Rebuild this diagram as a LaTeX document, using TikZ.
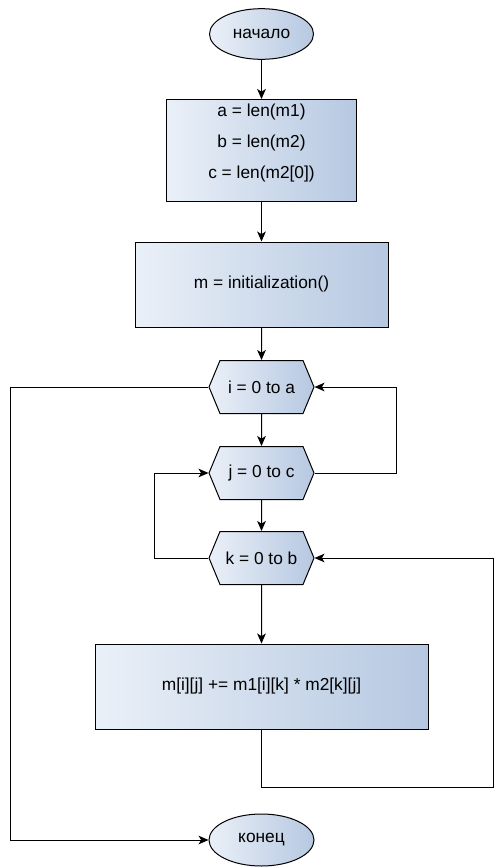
\documentclass[tikz,border=0pt]{standalone}
\usepackage{fontspec}
\setmainfont{Liberation Sans}
\usetikzlibrary{shapes.geometric,shapes.symbols,arrows.meta}
\definecolor{fillL}{HTML}{EAF0F8}
\definecolor{fillR}{HTML}{B6C8E1}
\begin{document}
\begin{tikzpicture}[x=0.75pt,y=-0.75pt,
  every node/.style = {draw, line width=0.75pt, left color=fillL, right color=fillR,
    font=\fontsize{13}{15.6}\selectfont, align=center, inner sep=1pt},
  terminal/.style = {ellipse, minimum width=78pt, minimum height=38pt},
  procbox/.style = {rectangle, minimum height=63.75pt},
  loopbox/.style = {signal, signal to=east and west, signal pointer angle=135,
    minimum width=78.75pt, minimum height=39.75pt},
  flow/.style = {line width=0.75pt, -{Stealth[length=7.5pt,width=6.5pt,inset=2pt]}}]
  \useasboundingbox (0,0) rectangle (500,868);
  \node[terminal] (start) at (261.5,34) {начало};
  \node[procbox, minimum width=142.5pt, minimum height=76.5pt, text depth=14pt] (sizes) at (261.5,150.5)
    {a = len(m1)\\[7.6pt] b = len(m2)\\[7.6pt] c = len(m2[0])};
  \node[procbox, minimum width=189.75pt] (init) at (261.5,284.5) {m = initialization()};
  \node[loopbox] (fori) at (261.5,387) {i = 0 to a};
  \node[loopbox] (forj) at (261.5,473) {j = 0 to c};
  \node[loopbox] (fork) at (261.5,558) {k = 0 to b};
  \node[procbox, minimum width=249.75pt] (body) at (261.5,686.5) {m[i][j] += m1[i][k] * m2[k][j]};
  \node[terminal, minimum width=78.75pt, minimum height=39pt] (stop) at (261.5,840) {конец};
  % straight steps
  \draw[flow] (start) -- (sizes);
  \draw[flow] (sizes) -- (init);
  \draw[flow] (init) -- (fori);
  \draw[flow] (fori) -- (forj);
  \draw[flow] (forj) -- (fork);
  \draw[flow] (fork) -- (body);
  % loop returns
  \coordinate (outL) at (10,387);
  \coordinate (jR) at (396,473);
  \coordinate (kL) at (154,558);
  \coordinate (bodyB) at (261.5,787);
  \coordinate (bodyR) at (493,787);
  \draw[flow] (fori.west) -- (outL) |- (stop.west);
  \draw[flow] (forj.east) -- (jR) |- (fori.east);
  \draw[flow] (fork.west) -- (kL) |- (forj.west);
  \draw[flow] (body.south) -- (bodyB) -- (bodyR) |- (fork.east);
\end{tikzpicture}
\end{document}
